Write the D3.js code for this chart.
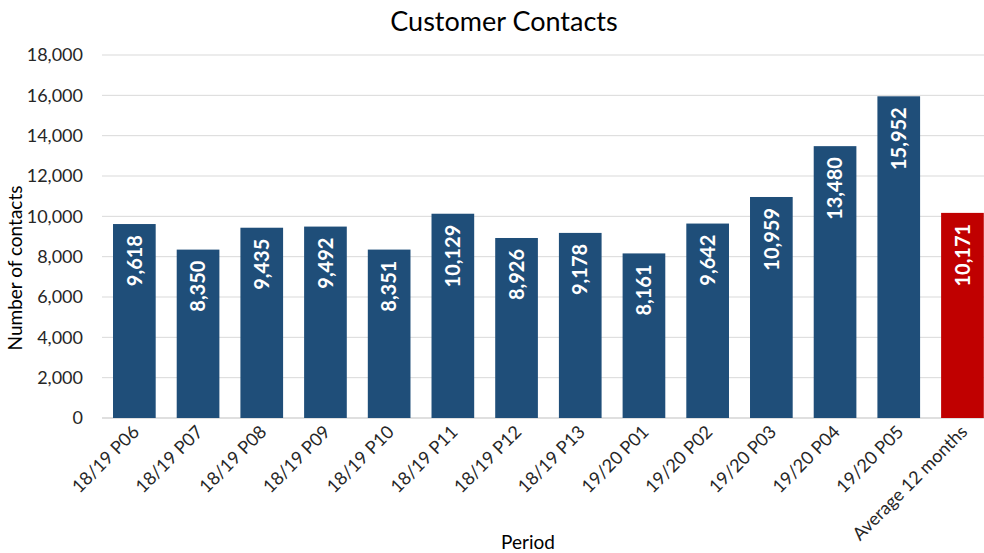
<!DOCTYPE html>
<html>
<head>
<meta charset="utf-8">
<script src="https://cdn.jsdelivr.net/npm/d3@7"></script>
<style>
  body { margin: 0; background: #fff; }
  text { font-family: Lato, "Open Sans", sans-serif; }
</style>
</head>
<body>
<div id="chart"></div>
<script>
var periods = ["18/19 P06", "18/19 P07", "18/19 P08", "18/19 P09", "18/19 P10", "18/19 P11",
  "18/19 P12", "18/19 P13", "19/20 P01", "19/20 P02", "19/20 P03", "19/20 P04", "19/20 P05",
  "Average 12 months"];
var contacts = [9618, 8350, 9435, 9492, 8351, 10129, 8926, 9178, 8161, 9642, 10959, 13480, 15952, 10171];
var yTicks = [0, 2000, 4000, 6000, 8000, 10000, 12000, 14000, 16000, 18000];

var width = 984, height = 553;

var svg = d3.select("#chart").append("svg")
    .attr("width", width)
    .attr("height", height);

var x = d3.scaleBand()
    .domain(periods)
    .range([102.5, 994.3])
    .paddingInner(0.33)
    .paddingOuter(0.165);

var y = d3.scaleLinear()
    .domain([0, 18000])
    .range([418, 55]);

// gridlines
svg.append("g")
    .selectAll("line")
    .data(yTicks)
    .enter()
    .append("line")
    .attr("x1", 102)
    .attr("x2", width)
    .attr("y1", function(d) { return y(d); })
    .attr("y2", function(d) { return y(d); })
    .style("stroke", function(d) { return d === 0 ? "#bfbfbf" : "#d9d9d9"; })
    .style("stroke-width", "1px");

// y axis labels
svg.append("g")
    .selectAll("text")
    .data(yTicks)
    .enter()
    .append("text")
    .attr("x", 83)
    .attr("y", function(d) { return y(d); })
    .attr("dy", "0.35em")
    .attr("text-anchor", "end")
    .style("font-size", "18px")
    .style("fill", "#262626")
    .text(function(d) { return d3.format(",")(d); });

// bars
var bars = svg.append("g")
    .selectAll("g")
    .data(periods)
    .enter()
    .append("g");

bars.append("rect")
    .attr("x", function(d) { return x(d); })
    .attr("width", x.bandwidth())
    .attr("y", function(d, i) { return y(contacts[i]); })
    .attr("height", function(d, i) { return y(0) - y(contacts[i]); })
    .style("fill", function(d, i) { return i === periods.length - 1 ? "#c00000" : "#1f4e79"; });

bars.append("text")
    .attr("transform", function(d, i) {
      return "translate(" + (x(d) + x.bandwidth() / 2) + "," + (y(contacts[i]) + 11) + ")rotate(-90)";
    })
    .attr("text-anchor", "end")
    .attr("dy", "0.36em")
    .style("font-size", "20px")
    .style("font-weight", "bold")
    .style("fill", "#fff")
    .text(function(d, i) { return d3.format(",")(contacts[i]); });

// x labels
svg.append("g")
    .selectAll("text")
    .data(periods)
    .enter()
    .append("text")
    .attr("transform", function(d) {
      return "translate(" + (x(d) + x.bandwidth() / 2 + 6) + "," + 433 + ")rotate(-45)";
    })
    .attr("text-anchor", "end")
    .style("font-size", "18px")
    .style("fill", "#262626")
    .text(function(d) { return d; });

// titles
svg.append("text")
    .attr("x", 504)
    .attr("y", 31)
    .attr("text-anchor", "middle")
    .style("font-size", "27px")
    .style("fill", "#000")
    .text("Customer Contacts");

svg.append("text")
    .attr("x", 528)
    .attr("y", 549)
    .attr("text-anchor", "middle")
    .style("font-size", "19px")
    .style("fill", "#000")
    .text("Period");

svg.append("text")
    .attr("transform", "translate(22,268)rotate(-90)")
    .attr("text-anchor", "middle")
    .style("font-size", "19px")
    .style("fill", "#000")
    .text("Number of contacts");
</script>
</body>
</html>
